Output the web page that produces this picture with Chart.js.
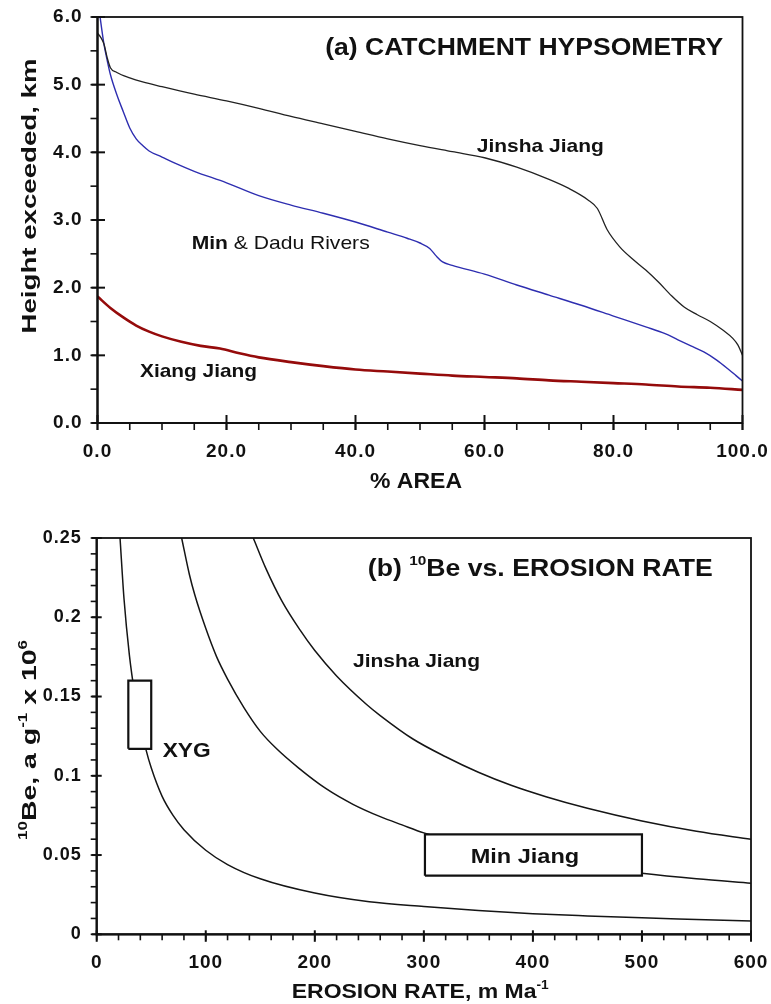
<!DOCTYPE html>
<html><head><meta charset="utf-8">
<script src="https://cdn.jsdelivr.net/npm/chart.js@4.4.1/dist/chart.umd.min.js"></script>
<style>
html,body{margin:0;padding:0;background:#fff;}
#wrap{position:relative;width:771px;height:1004px;overflow:hidden;}
canvas{display:block;}
</style></head><body>
<div id="wrap">
<canvas id="c1" width="771" height="490" style="width:771px;height:490px"></canvas>
<canvas id="c2" width="771" height="514" style="width:771px;height:514px"></canvas>
</div>
<script>
// ---------- (a) catchment hypsometry ----------
const areaTicks = [0, 20, 40, 60, 80, 100];
const areaTickLabels = ['0.0', '20.0', '40.0', '60.0', '80.0', '100.0'];
const heightTicks = [0, 1, 2, 3, 4, 5, 6];
const heightTickLabels = ['0.0', '1.0', '2.0', '3.0', '4.0', '5.0', '6.0'];

const jinshaArea = [0, 0.5, 1, 1.5, 2, 3, 5, 7, 10, 15, 20, 25, 30, 35, 40, 45, 50, 55, 60, 65, 70, 73, 76, 77.5, 79, 81, 83, 85, 87, 89, 91, 93, 95, 97, 98.5, 99.3, 100];
const jinshaHeight = [5.76, 5.7, 5.6, 5.4, 5.25, 5.18, 5.1, 5.04, 4.97, 4.86, 4.76, 4.65, 4.53, 4.42, 4.31, 4.2, 4.1, 4.01, 3.92, 3.78, 3.6, 3.47, 3.3, 3.17, 2.86, 2.6, 2.42, 2.26, 2.08, 1.88, 1.71, 1.6, 1.5, 1.37, 1.25, 1.15, 1.0];

const minDaduArea = [0, 0.4, 1, 1.5, 2, 3, 4, 5, 6, 7, 8, 10, 12, 15, 20, 25, 30, 35, 40, 45, 48, 50, 51.5, 52.5, 53.5, 55, 60, 65, 70, 75, 80, 85, 88, 90, 92, 94, 96, 98, 99, 100];
const minDaduHeight = [6.3, 6.0, 5.6, 5.36, 5.15, 4.85, 4.6, 4.36, 4.2, 4.1, 4.02, 3.93, 3.84, 3.72, 3.55, 3.36, 3.22, 3.1, 2.97, 2.82, 2.73, 2.66, 2.58, 2.47, 2.38, 2.33, 2.2, 2.04, 1.89, 1.74, 1.58, 1.42, 1.32, 1.23, 1.14, 1.05, 0.93, 0.78, 0.70, 0.62];

const xiangArea = [0, 2, 4, 6, 8, 10, 13, 16, 19, 22, 25, 30, 35, 40, 45, 50, 55, 60, 65, 70, 75, 80, 85, 90, 95, 100];
const xiangHeight = [1.87, 1.7, 1.56, 1.44, 1.35, 1.28, 1.2, 1.14, 1.1, 1.03, 0.97, 0.9, 0.84, 0.79, 0.76, 0.73, 0.7, 0.68, 0.66, 0.63, 0.61, 0.59, 0.57, 0.54, 0.52, 0.49];

// ---------- (b) 10Be vs erosion rate ----------
const erosionTicks = [0, 100, 200, 300, 400, 500, 600];
const erosionTickLabels = ['0', '100', '200', '300', '400', '500', '600'];
const beTicks = [0, 0.05, 0.1, 0.15, 0.2, 0.25];
const beTickLabels = ['0', '0.05', '0.1', '0.15', '0.2', '0.25'];

const xygErosion = [21.4, 25, 30, 35, 40, 45, 50, 60, 70, 80, 100, 120, 150, 200, 250, 300, 350, 400, 450, 500, 550, 600];
const xygBe = [0.25, 0.212, 0.176, 0.151, 0.132, 0.117, 0.105, 0.087, 0.075, 0.066, 0.053, 0.044, 0.035, 0.026, 0.0205, 0.0175, 0.015, 0.013, 0.0116, 0.0104, 0.0094, 0.0084];

const minErosion = [77.9, 85, 90, 100, 110, 120, 135, 150, 165, 185, 210, 235, 260, 280, 300, 350, 400, 450, 500, 550, 600];
const minBe = [0.25, 0.227, 0.214, 0.193, 0.175, 0.161, 0.143, 0.128, 0.117, 0.105, 0.092, 0.082, 0.0742, 0.069, 0.064, 0.055, 0.048, 0.043, 0.0385, 0.035, 0.0322];

const jinshaErosion = [143.6, 155, 170, 186.4, 200, 220, 247.5, 260, 290, 320, 350, 380, 412, 450, 500, 550, 600];
const jinshaBe = [0.25, 0.231, 0.21, 0.192, 0.179, 0.163, 0.145, 0.138, 0.1232, 0.112, 0.1022, 0.094, 0.0868, 0.0795, 0.0715, 0.065, 0.0599];

const xygBoxErosion = [29, 50];
const xygBoxBe = [0.117, 0.16];
const minBoxErosion = [301, 500];
const minBoxBe = [0.037, 0.063];

// ---------- helpers ----------
const FONT = "'Liberation Sans', Arial, Helvetica, sans-serif";
Chart.defaults.font.family = FONT;
const INK = '#111';

const zip = (xs, ys) => xs.map((x, i) => ({ x, y: ys[i] }));
const rect = (xs, ys) => [
  { x: xs[0], y: ys[0] }, { x: xs[1], y: ys[0] }, { x: xs[1], y: ys[1] },
  { x: xs[0], y: ys[1] }, { x: xs[0], y: ys[0] }
];

function drawRuns(ctx, runs, x, y, size, width, rotate) {
  ctx.save();
  ctx.letterSpacing = '0px';
  let nat = 0;
  const items = runs.map(r => {
    const s = size * (r.scale || 1);
    const font = `${r.weight || 'bold'} ${s}px ${FONT}`;
    ctx.font = font;
    const w = ctx.measureText(r.t).width;
    const it = { t: r.t, font, x: nat, dy: (r.dy || 0) * size };
    nat += w;
    return it;
  });
  const sx = width ? width / nat : 1;
  ctx.translate(x, y);
  let x0 = 0, y0 = 0;
  if (rotate) { ctx.rotate(-Math.PI / 2); x0 = -nat / 2; y0 = 0.358 * size; }
  ctx.scale(sx, 1);
  ctx.fillStyle = INK;
  ctx.textAlign = 'left';
  ctx.textBaseline = 'alphabetic';
  items.forEach(it => { ctx.font = it.font; ctx.fillText(it.t, x0 + it.x, y0 + it.dy); });
  ctx.restore();
}

function axesPlugin(spec) {
  return {
    id: 'axesFrame',
    beforeDraw(chart) { chart.ctx.letterSpacing = spec.tickSpacing; },
    afterDatasetsDraw(chart) {
      const { ctx, chartArea: a, scales: { x, y } } = chart;
      ctx.save();
      ctx.strokeStyle = INK;
      ctx.lineCap = 'butt';
      ctx.lineWidth = spec.frameWidth;
      ctx.strokeRect(a.left, a.top, a.right - a.left, a.bottom - a.top);
      ctx.lineWidth = spec.axisWidth;
      ctx.beginPath();
      ctx.moveTo(a.left, a.top); ctx.lineTo(a.left, a.bottom); ctx.lineTo(a.right, a.bottom);
      ctx.stroke();
      const seg = (x1, y1, x2, y2, w) => { ctx.lineWidth = w; ctx.beginPath(); ctx.moveTo(x1, y1); ctx.lineTo(x2, y2); ctx.stroke(); };
      const nx = Math.round((x.max - x.min) / spec.xMinor);
      for (let i = 0; i <= nx; i++) {
        const p = x.getPixelForValue(x.min + i * spec.xMinor);
        seg(p, a.bottom, p, a.bottom + spec.minorLen, spec.minorWidth);
      }
      const ny = Math.round((y.max - y.min) / spec.yMinor);
      for (let i = 0; i <= ny; i++) {
        const p = y.getPixelForValue(y.min + i * spec.yMinor);
        seg(a.left, p, a.left - spec.minorLen, p, spec.minorWidth);
      }
      x.ticks.forEach(t => {
        const p = x.getPixelForValue(t.value);
        seg(p, a.bottom + spec.xOut, p, a.bottom - spec.xIn, spec.majorWidth);
      });
      y.ticks.forEach(t => {
        const p = y.getPixelForValue(t.value);
        seg(a.left - spec.yOut, p, a.left + spec.yIn, p, spec.majorWidth);
      });
      ctx.restore();
    },
    afterDraw(chart) {
      const { ctx, scales: { x, y } } = chart;
      spec.labels.forEach(l => {
        drawRuns(ctx, l.runs, x.getPixelForValue(l.at[0]), y.getPixelForValue(l.at[1]), l.size, l.width, false);
      });
      spec.titles.forEach(l => drawRuns(ctx, l.runs, l.px[0], l.px[1], l.size, l.width, l.rotate));
    }
  };
}

function fixedTicks(values) {
  return function (scale) { scale.ticks = values.map(v => ({ value: v })); };
}
function fitX(h) {
  return s => { s.height = h; s.paddingLeft = 0; s.paddingRight = 0; s.paddingTop = 0; s.paddingBottom = 0; };
}
function fitY(w) {
  return s => { s.width = w; s.paddingLeft = 0; s.paddingRight = 0; s.paddingTop = 0; s.paddingBottom = 0; };
}

// ---------- chart (a) ----------
const tickFontA = { size: 19, weight: 'bold', family: FONT };
new Chart(document.getElementById('c1'), {
  type: 'line',
  data: {
    datasets: [
      { label: 'Jinsha Jiang', data: zip(jinshaArea, jinshaHeight), borderColor: '#222', borderWidth: 1.3 },
      { label: 'Min & Dadu Rivers', data: zip(minDaduArea, minDaduHeight), borderColor: '#2e2eb0', borderWidth: 1.4 },
      { label: 'Xiang Jiang', data: zip(xiangArea, xiangHeight), borderColor: '#950b0b', borderWidth: 2.6 }
    ]
  },
  options: {
    responsive: false, animation: false, events: [],
    layout: { padding: { left: 0, right: 28.5, top: 17, bottom: 0 } },
    elements: { point: { radius: 0 }, line: { cubicInterpolationMode: 'monotone', fill: false } },
    plugins: { legend: { display: false }, tooltip: { enabled: false } },
    scales: {
      x: {
        type: 'linear', min: 0, max: 100,
        grid: { display: false, drawTicks: false }, border: { display: false },
        afterBuildTicks: fixedTicks(areaTicks),
        ticks: { font: tickFontA, color: INK, padding: 17.5, maxRotation: 0, autoSkip: false,
                 callback: (v, i) => areaTickLabels[i] },
        afterFit: fitX(67)
      },
      y: {
        type: 'linear', min: 0, max: 6,
        grid: { display: false, drawTicks: false }, border: { display: false },
        afterBuildTicks: fixedTicks(heightTicks),
        ticks: { font: tickFontA, color: INK, padding: 15, autoSkip: false,
                 callback: (v, i) => heightTickLabels[i] },
        afterFit: fitY(97.5)
      }
    }
  },
  plugins: [axesPlugin({
    tickSpacing: '1px', frameWidth: 1.8, axisWidth: 2.2, majorWidth: 2, minorWidth: 1.6,
    xMinor: 5, yMinor: 0.5, minorLen: 7, xOut: 7, xIn: 8, yOut: 6, yIn: 7.5,
    labels: [
      { runs: [{ t: '(a) CATCHMENT HYPSOMETRY' }], at: [35.3, 5.44], size: 24, width: 398 },
      { runs: [{ t: 'Jinsha Jiang' }], at: [58.8, 4.01], size: 18.5, width: 127 },
      { runs: [{ t: 'Min ' }, { t: '& Dadu Rivers', weight: 'normal' }], at: [14.6, 2.57], size: 19, width: 178 },
      { runs: [{ t: 'Xiang Jiang' }], at: [6.6, 0.684], size: 18.5, width: 117 }
    ],
    titles: [
      { runs: [{ t: '% AREA' }], px: [370, 488], size: 22, width: 92 },
      { runs: [{ t: 'Height exceeded, km' }], px: [28.5, 196], size: 21, width: 275, rotate: true }
    ]
  })]
});

// ---------- chart (b) ----------
const tickFontBx = { size: 19, weight: 'bold', family: FONT };
const tickFontBy = { size: 18, weight: 'bold', family: FONT };
const curveB = { borderColor: '#151515', borderWidth: 1.5 };
const boxB = { borderColor: INK, borderWidth: 2.2, backgroundColor: '#fff', fill: 'shape',
               tension: 0, cubicInterpolationMode: 'default', order: -1 };
new Chart(document.getElementById('c2'), {
  type: 'line',
  data: {
    datasets: [
      Object.assign({ label: 'XYG curve', data: zip(xygErosion, xygBe) }, curveB),
      Object.assign({ label: 'Min Jiang curve', data: zip(minErosion, minBe) }, curveB),
      Object.assign({ label: 'Jinsha Jiang curve', data: zip(jinshaErosion, jinshaBe) }, curveB),
      Object.assign({ label: 'XYG box', data: rect(xygBoxErosion, xygBoxBe) }, boxB),
      Object.assign({ label: 'Min Jiang box', data: rect(minBoxErosion, minBoxBe) }, boxB)
    ]
  },
  options: {
    responsive: false, animation: false, events: [],
    layout: { padding: { left: 0, right: 20, top: 48, bottom: 0 } },
    elements: { point: { radius: 0 }, line: { cubicInterpolationMode: 'monotone', fill: false } },
    plugins: { legend: { display: false }, tooltip: { enabled: false } },
    scales: {
      x: {
        type: 'linear', min: 0, max: 600,
        grid: { display: false, drawTicks: false }, border: { display: false },
        afterBuildTicks: fixedTicks(erosionTicks),
        ticks: { font: tickFontBx, color: INK, padding: 17.5, maxRotation: 0, autoSkip: false,
                 callback: (v, i) => erosionTickLabels[i] },
        afterFit: fitX(69.7)
      },
      y: {
        type: 'linear', min: 0, max: 0.25,
        grid: { display: false, drawTicks: false }, border: { display: false },
        afterBuildTicks: fixedTicks(beTicks),
        ticks: { font: tickFontBy, color: INK, padding: 15, autoSkip: false,
                 callback: (v, i) => beTickLabels[i] },
        afterFit: fitY(96.7)
      }
    }
  },
  plugins: [axesPlugin({
    tickSpacing: '1px', frameWidth: 1.8, axisWidth: 2.2, majorWidth: 2, minorWidth: 1.6,
    xMinor: 20, yMinor: 0.01, minorLen: 6, xOut: 7.5, xIn: 4, yOut: 5, yIn: 5,
    labels: [
      { runs: [{ t: '(b) ' }, { t: '10', scale: 0.58, dy: -0.5 }, { t: 'Be vs. EROSION RATE' }], at: [248.6, 0.226], size: 23, width: 345 },
      { runs: [{ t: 'Jinsha Jiang' }], at: [235, 0.1685], size: 18.5, width: 127 },
      { runs: [{ t: 'XYG' }], at: [60.5, 0.112], size: 20, width: 48 },
      { runs: [{ t: 'Min Jiang' }], at: [342.9, 0.0449], size: 21, width: 108.6 }
    ],
    titles: [
      { runs: [{ t: 'EROSION RATE, m Ma' }, { t: '-1', scale: 0.6, dy: -0.45 }], px: [291.7, 508.3], size: 21, width: 257 },
      { runs: [{ t: '10', scale: 0.6, dy: -0.45 }, { t: 'Be, a g' }, { t: '-1', scale: 0.6, dy: -0.45 }, { t: ' x 10' }, { t: '6', scale: 0.6, dy: -0.45 }],
        px: [28.5, 250], size: 20, width: 200, rotate: true }
    ]
  })]
});
</script>
</body></html>
